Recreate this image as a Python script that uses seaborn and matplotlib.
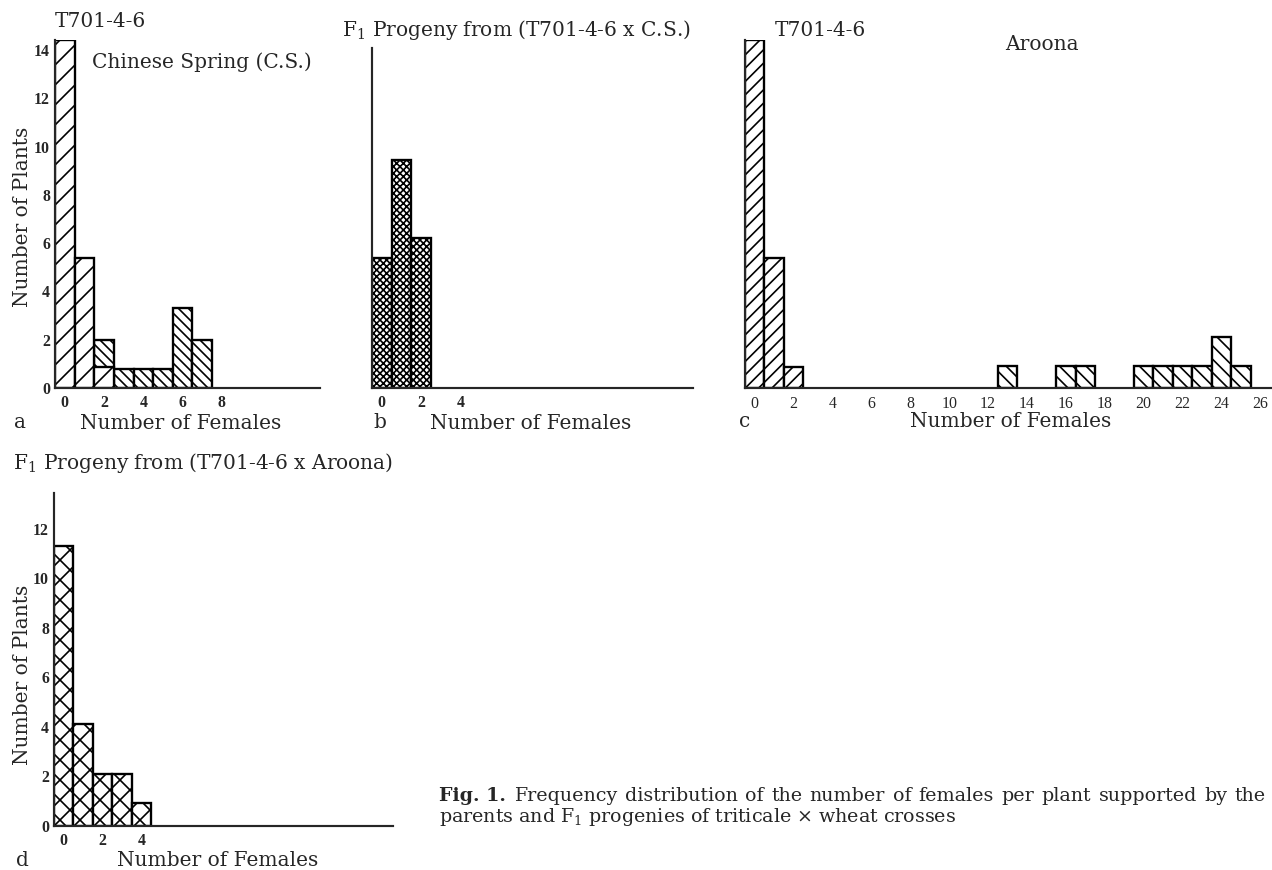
import matplotlib
matplotlib.use("Agg")
import matplotlib.pyplot as plt
import seaborn as sns

# data (bin = number of females, value = number of plants)
t701_bins = [0, 1, 2]
t701_counts = [14.4, 5.4, 0.85]
cs_bins = [2, 3, 4, 5, 6, 7]
cs_counts = [2.0, 0.8, 0.8, 0.8, 3.3, 2.0]
f1cs_bins = [0, 1, 2]
f1cs_counts = [5.4, 9.45, 6.2]
aroona_bins = [13, 16, 17, 20, 21, 22, 23, 24, 25]
aroona_counts = [0.9, 0.9, 0.9, 0.9, 0.9, 0.9, 0.9, 2.1, 0.9]
f1ar_bins = [0, 1, 2, 3, 4]
f1ar_counts = [11.3, 4.1, 2.1, 2.1, 0.93]

ticks_a = [0, 2, 4, 6, 8]
ticks_b = [0, 2, 4]
ticks_c = [0, 2, 4, 6, 8, 10, 12, 14, 16, 18, 20, 22, 24, 26]
ticks_d = [0, 2, 4]
yticks_a = [0, 2, 4, 6, 8, 10, 12, 14]
yticks_d = [0, 2, 4, 6, 8, 10, 12]

caption1 = 'Frequency distribution of the number of females per plant supported by the'
caption2 = 'parents and F$_1$ progenies of triticale \u00d7 wheat crosses'

W, H, DPI = 1272, 870, 120
FS = 12.1  # titles / axis labels
CS = 11.4  # caption

sns.set_style("white")
plt.rcParams['font.family'] = ['DejaVu Serif']
plt.rcParams['axes.linewidth'] = 1.3
plt.rcParams['hatch.linewidth'] = 1.0

fig = plt.figure(figsize=(W / DPI, H / DPI), dpi=DPI)


def add_ax(x0, x1, ybase, ytop):
    return fig.add_axes([x0 / W, 1 - ybase / H, (x1 - x0) / W, (ybase - ytop) / H])


def ftext(x, y, s, **kw):
    kw.setdefault('va', 'center')
    return fig.text(x / W, 1 - y / H, s, **kw)


def bars(ax, bins, counts, hatch):
    sns.barplot(x=bins, y=counts, native_scale=True, width=1, color='white',
                saturation=1, edgecolor='black', linewidth=1.4, hatch=hatch,
                errorbar=None, ax=ax)


def style(ax, xlim, ylim, xticks, yticks, bold=True, xpad=4, ypad=3, tsize=9.5):
    ax.set_xlim(xlim)
    ax.set_ylim(ylim)
    ax.set_xticks(xticks)
    ax.set_yticks(yticks)
    ax.tick_params(axis='x', length=0, pad=xpad)
    ax.tick_params(axis='y', length=0, pad=ypad)
    for s in ['top', 'right']:
        ax.spines[s].set_visible(False)
    for lab in ax.get_xticklabels() + ax.get_yticklabels():
        lab.set_fontfamily('Liberation Serif')
        lab.set_fontweight('bold' if bold else 'normal')
        lab.set_fontsize(tsize)


def labels(ax, box, xl_x, xl_y, yl_x=None, yl_y=None):
    x0, x1, ybase, ytop = box
    ax.set_xlabel('Number of Females', fontsize=FS)
    ax.xaxis.set_label_coords((xl_x - x0) / (x1 - x0), -(xl_y - ybase) / (ybase - ytop))
    ax.xaxis.label.set_va('center')
    if yl_x is not None:
        ax.set_ylabel('Number of Plants', fontsize=FS)
        ax.yaxis.set_label_coords((yl_x - x0) / (x1 - x0), (ybase - yl_y) / (ybase - ytop))
        ax.yaxis.label.set_va('center')
    else:
        ax.set_ylabel('')


# panel a
box_a = (55, 320, 388, 40.4)
ax_a = add_ax(*box_a)
bars(ax_a, cs_bins, cs_counts, '\\' * 4)
bars(ax_a, t701_bins, t701_counts, '//')
style(ax_a, (-0.5, 13.0), (0, 14.4), ticks_a, yticks_a)
labels(ax_a, box_a, 181, 423, 23, 217)

# panel b
box_b = (372, 693, 388, 47.6)
ax_b = add_ax(*box_b)
bars(ax_b, f1cs_bins, f1cs_counts, 'x' * 6)
style(ax_b, (-0.5, 15.8), (0, 14.1), ticks_b, [])
labels(ax_b, box_b, 531, 423)

# panel c
box_c = (745, 1272, 388, 40.4)
ax_c = add_ax(*box_c)
bars(ax_c, aroona_bins, aroona_counts, '\\' * 3)
bars(ax_c, t701_bins, t701_counts, '///')
style(ax_c, (-0.5, 26.6), (0, 14.4), ticks_c, [], bold=False, xpad=5)
labels(ax_c, box_c, 1011, 421)

# panel d
box_d = (54, 393, 826, 493)
ax_d = add_ax(*box_d)
bars(ax_d, f1ar_bins, f1ar_counts, 'xx')
style(ax_d, (-0.5, 16.97), (0, 13.45), ticks_d, yticks_d)
labels(ax_d, box_d, 218, 860, 23, 675)

# panel titles and letters
ftext(55, 21.5, 'T701-4-6', fontsize=FS)
ftext(92, 62, 'Chinese Spring (C.S.)', fontsize=FS)
ftext(342, 30, r'F$_1$ Progeny from (T701-4-6 x C.S.)', fontsize=FS,
      math_fontfamily='dejavuserif')
ftext(775, 31, 'T701-4-6', fontsize=FS)
ftext(1005, 44, 'Aroona', fontsize=FS)
ftext(13, 463, r'F$_1$ Progeny from (T701-4-6 x Aroona)', fontsize=FS,
      math_fontfamily='dejavuserif')
ftext(20, 423, 'a', fontsize=FS, ha='center')
ftext(380, 423, 'b', fontsize=FS, ha='center')
ftext(745, 421, 'c', fontsize=FS, ha='center')
ftext(22, 860, 'd', fontsize=FS, ha='center')

# caption: first line is justified in the original, so spread the words
ftext(439, 796, 'Fig. 1.', fontsize=CS, fontweight='bold')
renderer = fig.canvas.get_renderer()
words = caption1.split()
wtexts = [ftext(0, 796, w, fontsize=CS) for w in words]
widths = [t.get_window_extent(renderer).width for t in wtexts]
start = 514
gap = (1266 - start - sum(widths)) / (len(words) - 1)
x = start
for t, w in zip(wtexts, widths):
    t.set_x(x / W)
    x += w + gap
ftext(439, 817, caption2, fontsize=CS, math_fontfamily='dejavuserif')

fig.savefig('out.png', dpi=DPI)
